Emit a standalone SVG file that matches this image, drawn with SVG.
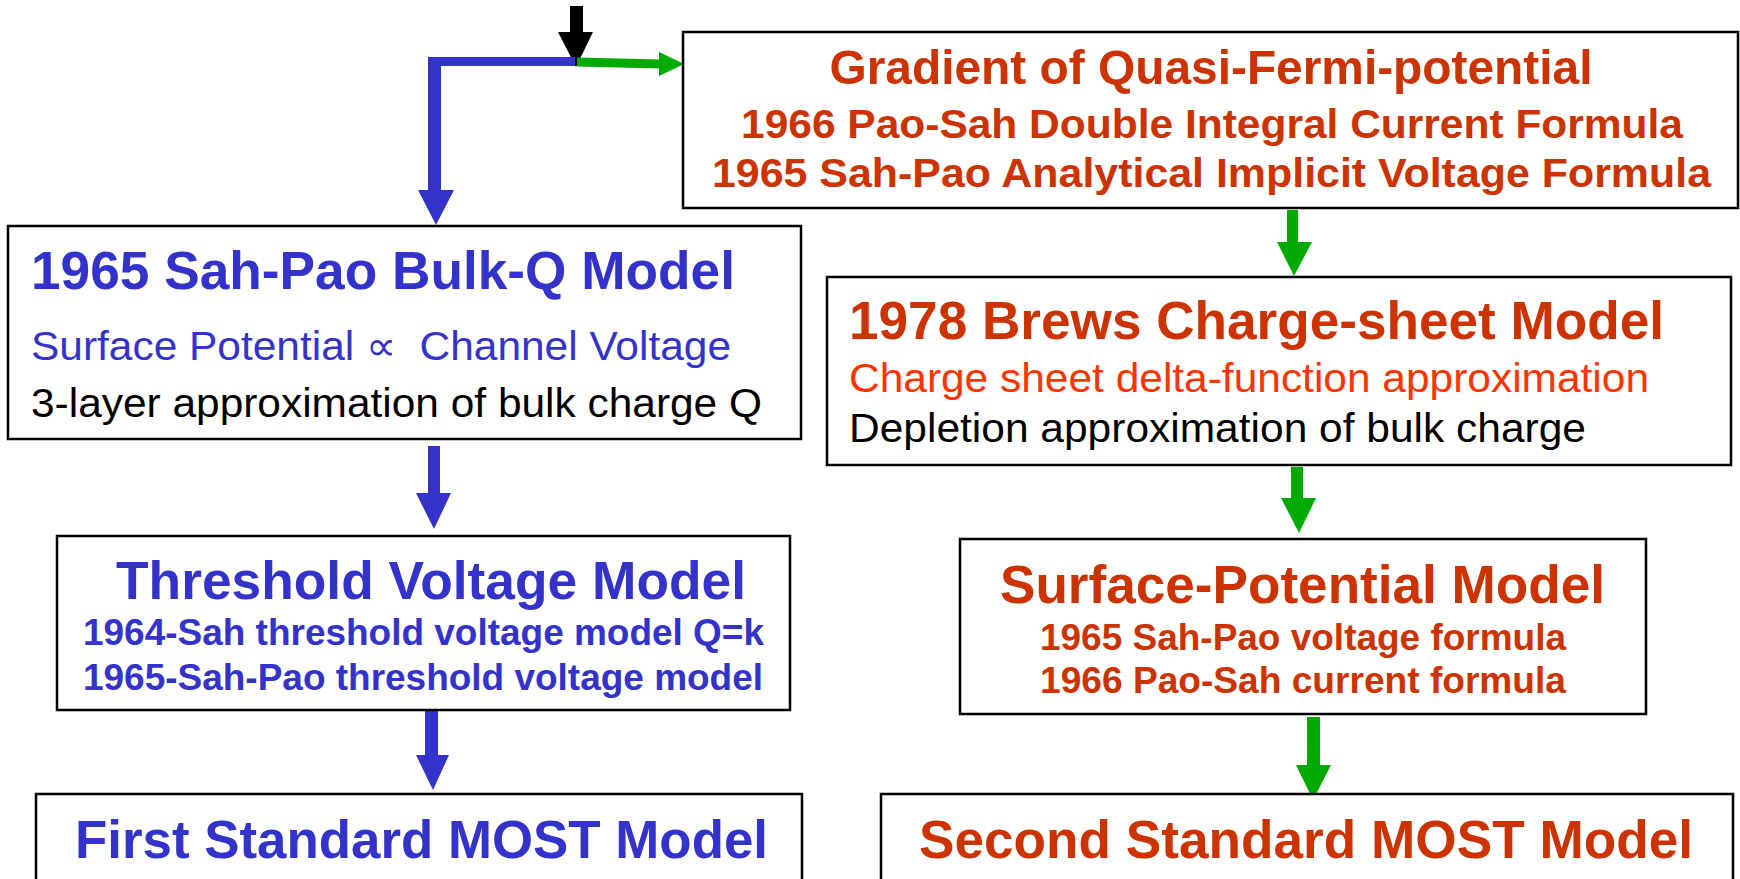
<svg xmlns="http://www.w3.org/2000/svg" width="1740" height="879" viewBox="0 0 1740 879">
<style>
.box{fill:#fff;stroke:#000;stroke-width:2.5}
text{font-family:"Liberation Sans",Arial,sans-serif}
.b{font-weight:bold}
.blue{fill:#3333cc}
.red{fill:#cc3300}
.bred{fill:#ff3300}
.blk{fill:#000}
.h{font-size:53px;font-weight:bold}
</style>
<rect width="1740" height="879" fill="#fff"/>
<g id="connectors">
  <rect x="570" y="6" width="13" height="27" fill="#000"/>
  <polygon points="558,32 593,32 576,67" fill="#000"/>
  <path d="M575,61.5 H434.5 V192" fill="none" stroke="#3333cc" stroke-width="9"/>
  <rect x="428" y="57" width="13" height="135" fill="#3333cc"/>
  <polygon points="418,190 454,190 436,225" fill="#3333cc"/>
  <polygon points="577,57.5 661,59.5 661,68.5 577,66.5" fill="#00aa00"/>
  <polygon points="659,52 659,76 684,64" fill="#00aa00"/>
  <rect x="428" y="446" width="12" height="48" fill="#3333cc"/>
  <polygon points="416,493 451,493 434,529" fill="#3333cc"/>
  <rect x="425" y="710" width="13" height="46" fill="#3333cc"/>
  <polygon points="416,755 449,755 433,790" fill="#3333cc"/>
  <rect x="1287" y="210" width="11" height="33" fill="#00aa00"/>
  <polygon points="1277,242 1312,242 1294,276" fill="#00aa00"/>
  <rect x="1291" y="467" width="12" height="32" fill="#00aa00"/>
  <polygon points="1281,498 1316,498 1299,533" fill="#00aa00"/>
  <rect x="1307" y="717" width="13" height="49" fill="#00aa00"/>
  <polygon points="1296,765 1331,765 1313,800" fill="#00aa00"/>
</g>
<g id="node-gradient">
  <rect class="box" x="683" y="32" width="1055" height="176"/>
  <text class="red b" x="1211" y="84" font-size="49" text-anchor="middle" textLength="763" lengthAdjust="spacingAndGlyphs">Gradient of Quasi-Fermi-potential</text>
  <text class="red b" x="1212" y="138" font-size="40" text-anchor="middle" textLength="942" lengthAdjust="spacingAndGlyphs">1966 Pao-Sah Double Integral Current Formula</text>
  <text class="red b" x="1211.5" y="187" font-size="40" text-anchor="middle" textLength="999" lengthAdjust="spacingAndGlyphs">1965 Sah-Pao Analytical Implicit Voltage Formula</text>
</g>
<g id="node-bulkq">
  <rect class="box" x="8" y="226" width="793" height="213"/>
  <text class="blue h" x="31" y="289" textLength="704" lengthAdjust="spacingAndGlyphs">1965 Sah-Pao Bulk-Q Model</text>
  <text class="blue" x="31" y="360" font-size="41" textLength="700" lengthAdjust="spacingAndGlyphs">Surface Potential ∝ &#160;Channel Voltage</text>
  <text class="blk" x="31" y="417" font-size="41" textLength="731" lengthAdjust="spacingAndGlyphs">3-layer approximation of bulk charge Q</text>
</g>
<g id="node-threshold">
  <rect class="box" x="57" y="536" width="733" height="174"/>
  <text class="blue h" x="116" y="599" textLength="630" lengthAdjust="spacingAndGlyphs">Threshold Voltage Model</text>
  <text class="blue b" x="83" y="645" font-size="37" textLength="681" lengthAdjust="spacingAndGlyphs">1964-Sah threshold voltage model Q=k</text>
  <text class="blue b" x="83" y="690" font-size="37" textLength="680" lengthAdjust="spacingAndGlyphs">1965-Sah-Pao threshold voltage model</text>
</g>
<g id="node-first">
  <rect class="box" x="36" y="794" width="766" height="120"/>
  <text class="blue h" x="75" y="858" font-size="54" textLength="693" lengthAdjust="spacingAndGlyphs">First Standard MOST Model</text>
</g>
<g id="node-brews">
  <rect class="box" x="827" y="277" width="904" height="188"/>
  <text class="red h" x="849" y="339" textLength="815" lengthAdjust="spacingAndGlyphs">1978 Brews Charge-sheet Model</text>
  <text class="bred" x="849" y="392" font-size="41" textLength="800" lengthAdjust="spacingAndGlyphs">Charge sheet delta-function approximation</text>
  <text class="blk" x="849" y="442" font-size="41" textLength="737" lengthAdjust="spacingAndGlyphs">Depletion approximation of bulk charge</text>
</g>
<g id="node-surface">
  <rect class="box" x="960" y="539" width="686" height="175"/>
  <text class="red h" x="1000" y="603" font-size="54" textLength="605" lengthAdjust="spacingAndGlyphs">Surface-Potential Model</text>
  <text class="red b" x="1040" y="650" font-size="37" textLength="526" lengthAdjust="spacingAndGlyphs">1965 Sah-Pao voltage formula</text>
  <text class="red b" x="1040" y="693" font-size="37" textLength="526" lengthAdjust="spacingAndGlyphs">1966 Pao-Sah current formula</text>
</g>
<g id="node-second">
  <rect class="box" x="881" y="794" width="852" height="120"/>
  <text class="red h" x="919" y="858" font-size="54" textLength="774" lengthAdjust="spacingAndGlyphs">Second Standard MOST Model</text>
</g>
</svg>
